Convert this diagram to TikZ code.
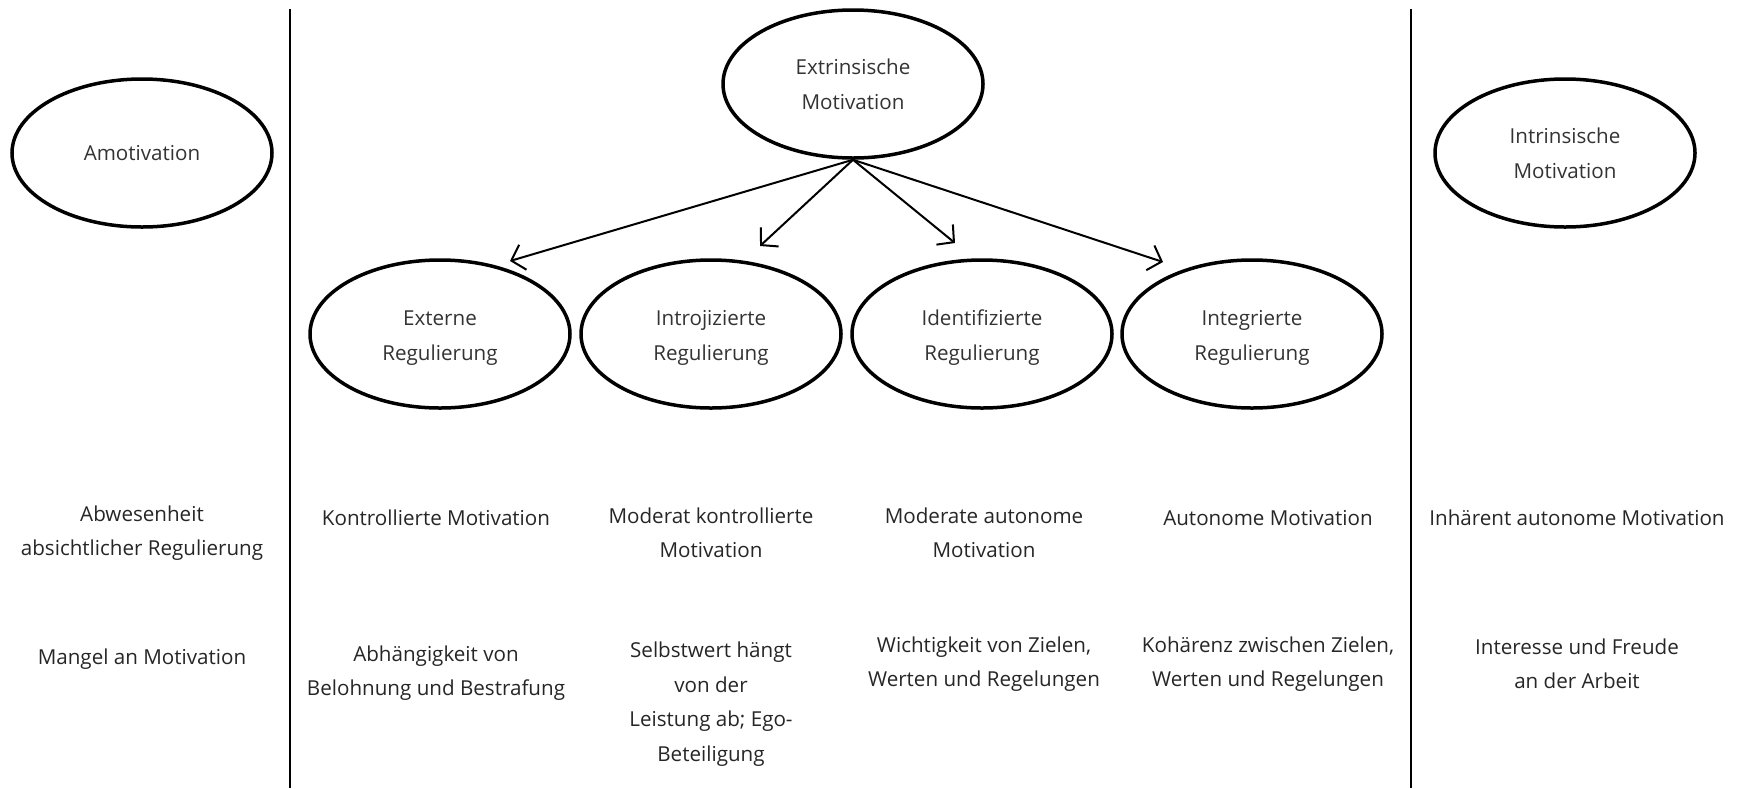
\documentclass[tikz,border=0pt]{standalone}
\usepackage{fontspec}
\setmainfont{Open Sans}
\usetikzlibrary{shapes.geometric,arrows.meta}
\tikzset{
  oval/.style={ellipse,draw,line width=3.5pt,minimum width=260pt,minimum height=148pt,align=center,font=\fontsize{20.6}{35}\selectfont,text=black!80},
  lbl/.style={align=center,font=\fontsize{20.6}{34.5}\selectfont,text=black!85,inner sep=0pt},
  arr/.style={line width=2pt,-{Straight Barb[length=12pt,width=26pt,line width=2pt]}},
  sep/.style={line width=2pt}
}
\begin{document}
\begin{tikzpicture}[x=1pt,y=-1pt]
\useasboundingbox (0,0) rectangle (1742,788);
\coordinate (l1t) at (290,9); \coordinate (l1b) at (290,788);
\coordinate (l2t) at (1411,9); \coordinate (l2b) at (1411,788);
\draw[sep] (l1t) -- (l1b);
\draw[sep] (l2t) -- (l2b);

\node[oval] (amo) at (142,153) {Amotivation};
\node[oval] (ext) at (853,84) {Extrinsische\\Motivation};
\node[oval] (int) at (1565,153) {Intrinsische\\Motivation};
\node[oval] (er) at (440,334) {};
\node[oval] (ir) at (711,334) {};
\node[oval] (idr) at (982,334) {};
\node[oval] (igr) at (1252,334) {};
\node[lbl,text=black!80,font=\fontsize{20.6}{35}\selectfont] (ert) at (440,338) {Externe\\Regulierung};
\node[lbl,text=black!80,font=\fontsize{20.6}{35}\selectfont] (irt) at (711,338) {Introjizierte\\Regulierung};
\node[lbl,text=black!80,font=\fontsize{20.6}{35}\selectfont] (idrt) at (982,338) {Identifizierte\\Regulierung};
\node[lbl,text=black!80,font=\fontsize{20.6}{35}\selectfont] (igrt) at (1252,338) {Integrierte\\Regulierung};

\coordinate (a1) at (510,261);
\coordinate (a2) at (760,246);
\coordinate (a3) at (955,243);
\coordinate (a4) at (1163,262);
\draw[arr] (ext.south) -- (a1);
\draw[arr] (ext.south) -- (a2);
\draw[arr] (ext.south) -- (a3);
\draw[arr] (ext.south) -- (a4);

\node[lbl] (r1a) at (142,533) {Abwesenheit\\absichtlicher Regulierung};
\node[lbl] (r1b) at (436,518) {Kontrollierte Motivation};
\node[lbl] (r1c) at (711,533) {Moderat kontrollierte\\Motivation};
\node[lbl] (r1d) at (984,533) {Moderate autonome\\Motivation};
\node[lbl] (r1e) at (1268,518) {Autonome Motivation};
\node[lbl] (r1f) at (1577,518) {Inhärent autonome Motivation};

\node[lbl] (r2a) at (142,659) {Mangel an Motivation};
\node[lbl] (r2b) at (436,673) {Abhängigkeit von\\Belohnung und Bestrafung};
\node[lbl] (r2c) at (711,704) {Selbstwert hängt\\von der\\Leistung ab; Ego-\\Beteiligung};
\node[lbl] (r2d) at (984,664) {Wichtigkeit von Zielen,\\Werten und Regelungen};
\node[lbl] (r2e) at (1268,664) {Kohärenz zwischen Zielen,\\Werten und Regelungen};
\node[lbl] (r2f) at (1577,664) {Interesse und Freude\\an der Arbeit};
\end{tikzpicture}
\end{document}
